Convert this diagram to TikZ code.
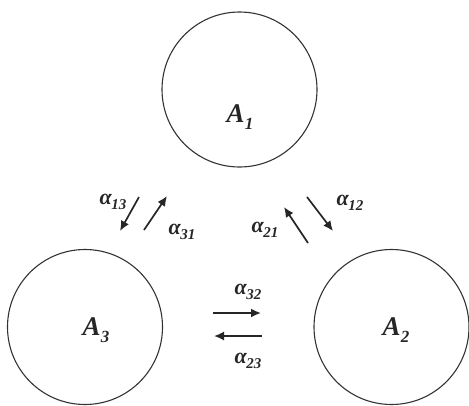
\documentclass[tikz,border=0pt]{standalone}
\usepackage{fontspec}
\setmainfont{Liberation Serif}
\usetikzlibrary{arrows.meta}
\newcommand{\alab}[1]{{\fontsize{22}{22}\selectfont\bfseries\itshape α\kern-0.5pt\raisebox{-0.2em}{\fontsize{15}{15}\selectfont #1}}}
\newcommand{\Alab}[1]{{\fontsize{27}{27}\selectfont\bfseries\itshape A\raisebox{-0.25em}{\fontsize{17}{17}\selectfont #1}}}
\begin{document}
\begin{tikzpicture}[x=1pt,y=-1pt,
  region/.style={circle,draw=black!80,line width=1.1pt,minimum size=155pt,inner sep=0pt},
  flow/.style={line width=1.7pt,draw=black!85,-{Latex[length=10pt,width=9pt]}},
  lbl/.style={inner sep=0pt,text=black!85}]
\useasboundingbox (0,0) rectangle (469,405);
\node[region] (c1) at (239.5,89.5) {};
\node[region] (c3) at (85,327) {};
\node[region] (c2) at (391.5,327) {};
\node[lbl] (l1) at (240,117) {\Alab{1}};
\node[lbl] (l3) at (96,330) {\Alab{3}};
\node[lbl] (l2) at (396,330) {\Alab{2}};
% arrows
\coordinate (s13) at (139,197); \coordinate (e13) at (120,231);
\coordinate (s31) at (144,230); \coordinate (e31) at (167,196);
\coordinate (s21) at (308,243); \coordinate (e21) at (284,207);
\coordinate (s12) at (307,197); \coordinate (e12) at (333,231);
\coordinate (s32) at (213,313); \coordinate (e32) at (261,313);
\coordinate (s23) at (262,336); \coordinate (e23) at (214,336);
\draw[flow] (s13) -- (e13);
\draw[flow] (s31) -- (e31);
\draw[flow] (s21) -- (e21);
\draw[flow] (s12) -- (e12);
\draw[flow] (s32) -- (e32);
\draw[flow] (s23) -- (e23);
\node[lbl] (t13) at (113,202) {\alab{13}};
\node[lbl] (t31) at (182,232) {\alab{31}};
\node[lbl] (t21) at (265,230) {\alab{21}};
\node[lbl] (t12) at (350,203) {\alab{12}};
\node[lbl] (t32) at (248,292) {\alab{32}};
\node[lbl] (t23) at (248,361) {\alab{23}};
\end{tikzpicture}
\end{document}
